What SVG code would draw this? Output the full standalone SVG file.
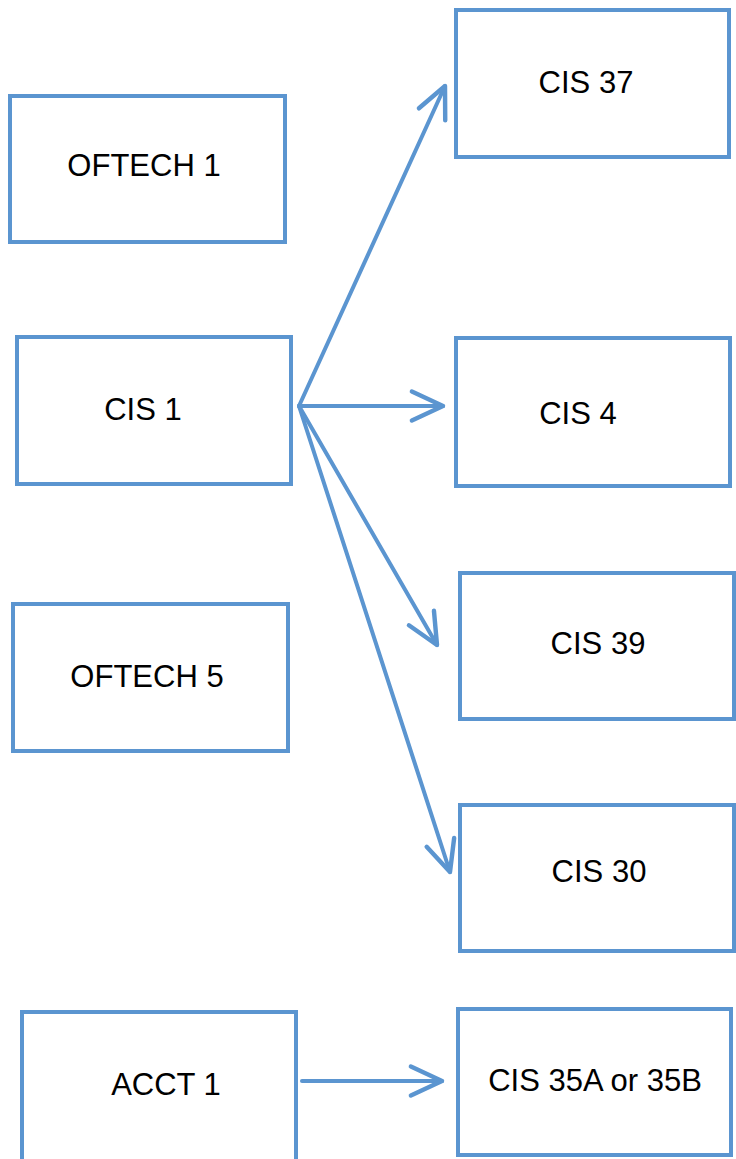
<svg xmlns="http://www.w3.org/2000/svg" width="736" height="1159" viewBox="0 0 736 1159">
<style>
.box{fill:#fff;stroke:#5b95d0;stroke-width:4}
.lbl{font-family:"Liberation Sans",Arial,sans-serif;font-size:31px;fill:#000;text-anchor:middle;dominant-baseline:central}
.edge{stroke:#5b95d0;stroke-width:4;fill:none;stroke-linecap:round}
</style>
<defs>
<marker id="arr" markerUnits="userSpaceOnUse" markerWidth="40" markerHeight="40" viewBox="-32 -16 36 32" refX="0" refY="0" orient="auto">
<path d="M-28,-13 L0,0 L-28,13" fill="none" stroke="#5b95d0" stroke-width="4" stroke-linecap="round" stroke-linejoin="round"/>
</marker>
</defs>
<rect width="736" height="1159" fill="#fff"/>
<g id="oftech1"><rect class="box" x="10" y="96" width="275" height="146"/><text class="lbl" x="144" y="165">OFTECH 1</text></g>
<g id="cis37"><rect class="box" x="456" y="10" width="273" height="147"/><text class="lbl" x="586" y="82">CIS 37</text></g>
<g id="cis1"><rect class="box" x="17" y="337" width="274" height="147"/><text class="lbl" x="143" y="409">CIS 1</text></g>
<g id="cis4"><rect class="box" x="456" y="338" width="274" height="148"/><text class="lbl" x="578" y="413">CIS 4</text></g>
<g id="oftech5"><rect class="box" x="13" y="604" width="275" height="147"/><text class="lbl" x="147" y="676">OFTECH 5</text></g>
<g id="cis39"><rect class="box" x="460" y="573" width="274" height="146"/><text class="lbl" x="598" y="643">CIS 39</text></g>
<g id="cis30"><rect class="box" x="460" y="805" width="274" height="146"/><text class="lbl" x="599" y="871">CIS 30</text></g>
<g id="acct1"><rect class="box" x="22" y="1012" width="274" height="150"/><text class="lbl" x="166" y="1084">ACCT 1</text></g>
<g id="cis35"><rect class="box" x="458" y="1009" width="273" height="146"/><text class="lbl" x="595" y="1080">CIS 35A or 35B</text></g>
<g id="connectors">
<path class="edge" d="M299,406 L445,86" marker-end="url(#arr)"/>
<path class="edge" d="M299,406 L443,406" marker-end="url(#arr)"/>
<path class="edge" d="M299,406 L437,645" marker-end="url(#arr)"/>
<path class="edge" d="M299,406 L450,872" marker-end="url(#arr)"/>
<path class="edge" d="M302,1081 L442,1081" marker-end="url(#arr)"/>
</g>
</svg>
